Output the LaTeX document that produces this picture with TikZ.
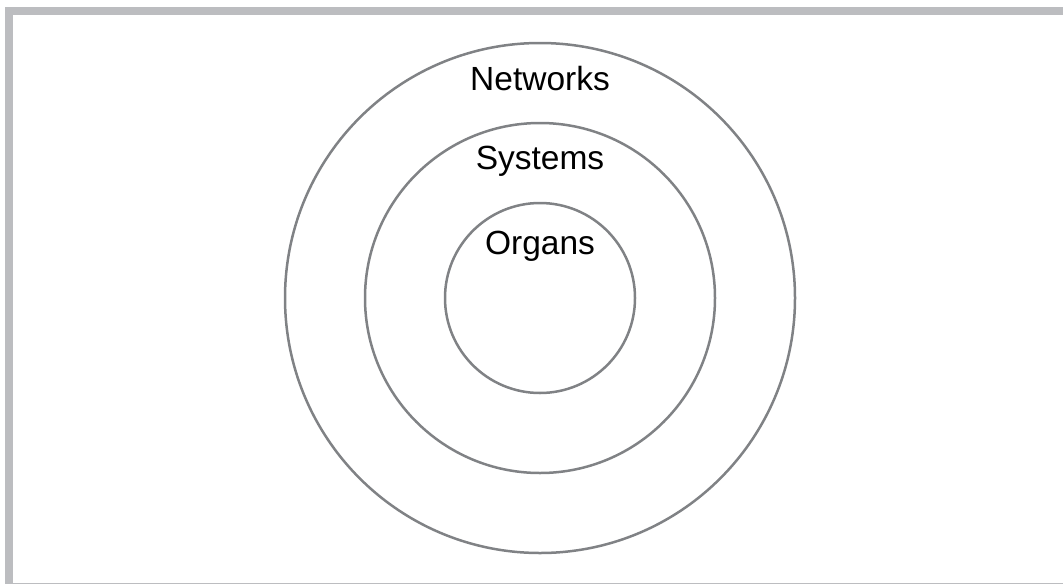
\documentclass[tikz,border=0pt]{standalone}
\usepackage{fontspec}
\setmainfont{Liberation Sans}
\definecolor{ring}{HTML}{808285}
\definecolor{frame}{HTML}{BCBDC0}
\begin{document}
\begin{tikzpicture}[x=1pt,y=-1pt,
  ringc/.style={circle,draw=ring,line width=2.5pt,inner sep=0pt},
  lbl/.style={font=\fontsize{33.5}{33.5}\selectfont,anchor=base,inner sep=0pt}]
\useasboundingbox (0,0) rectangle (1063,584);
\fill[frame] (5,7) rectangle (1063,15);
\fill[frame] (5,7) rectangle (13,584);
\fill[frame] (13,582.5) rectangle (1063,584);
\node[ringc,minimum size=510pt] (outer) at (540,298) {};
\node[ringc,minimum size=350pt] (mid) at (540,298) {};
\node[ringc,minimum size=190pt] (inner) at (540,298) {};
\node[lbl] (net) at (540,90) {Networks};
\node[lbl] (sys) at (540,169) {Systems};
\node[lbl] (org) at (540,254) {Organs};
\end{tikzpicture}
\end{document}
